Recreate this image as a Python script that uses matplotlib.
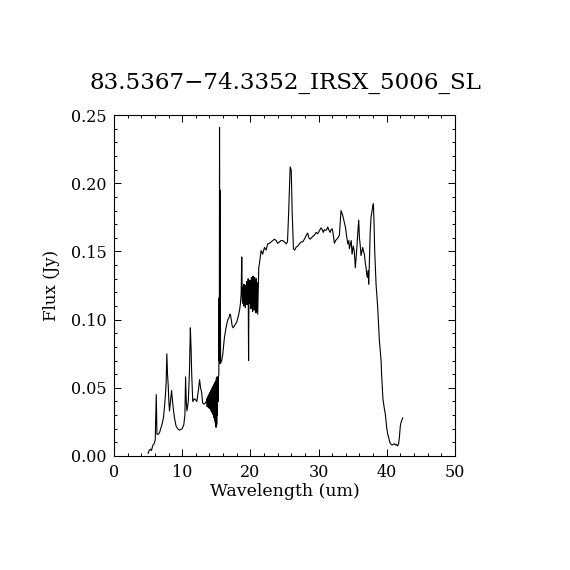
"""
IRS spectrum of 83.5367-74.3352 (IRSX 5006, SL), redrawn in the old IDL plot style.
"""
import matplotlib
matplotlib.use('Agg')
import matplotlib.pyplot as plt
from matplotlib.ticker import MultipleLocator

title = '83.5367\u221274.3352_IRSX_5006_SL'

# wavelength (um) and flux (Jy)
wave = [5.00, 5.15, 5.35, 5.50, 5.70, 5.90, 6.05, 6.20, 6.30, 6.50,
        6.67, 6.85, 7.06, 7.25, 7.40, 7.55, 7.65, 7.75, 7.85, 7.95,
        8.05, 8.14, 8.30, 8.45, 8.55, 8.68, 8.87, 9.10, 9.35, 9.60,
        9.80, 10.00, 10.24, 10.40, 10.50, 10.60, 10.70, 10.90, 11.07, 11.20,
        11.30, 11.40, 11.55, 11.80, 12.00, 12.15, 12.40, 12.55, 12.70, 12.85,
        13.00, 13.20, 13.40, 13.55,
        # noisy stretch 13.6-15.4
        13.62, 13.67, 13.72, 13.77, 13.82, 13.87, 13.92, 13.97, 14.02, 14.07,
        14.12, 14.17, 14.22, 14.27, 14.32, 14.37, 14.42, 14.47, 14.52, 14.57,
        14.62, 14.67, 14.72, 14.77, 14.82, 14.87, 14.92, 14.97, 15.02, 15.07,
        15.12, 15.17, 15.22, 15.27, 15.32, 15.38,
        # 15.5 um spike
        15.42, 15.45, 15.48, 15.52, 15.58, 15.63,
        15.80, 15.96, 16.20, 16.40, 16.55, 16.70, 16.84, 17.00, 17.10, 17.20,
        17.35, 17.50, 17.67, 17.85, 18.00, 18.15, 18.30, 18.45, 18.55, 18.65,
        18.74, 18.82, 18.90,
        # noisy stretch 19-21.3
        18.96, 19.02, 19.08, 19.14, 19.20, 19.26, 19.32, 19.38, 19.44, 19.50,
        19.56, 19.62, 19.68, 19.74, 19.80, 19.86, 19.92, 19.98, 20.04, 20.10,
        20.16, 20.22, 20.28, 20.34, 20.40, 20.46, 20.52, 20.58, 20.64, 20.70,
        20.76, 20.82, 20.88, 20.94, 21.00, 21.08, 21.15, 21.23, 21.33,
        21.58, 21.80, 22.07, 22.30, 22.55, 22.80, 23.05, 23.30, 23.53, 23.80,
        24.00, 24.27, 24.50, 24.75, 25.00, 25.25, 25.45, 25.63, 25.84, 26.00,
        26.13, 26.32, 26.50, 26.70, 26.95, 27.20, 27.45, 27.68, 27.93, 28.07,
        28.40, 28.60, 28.77, 28.95, 29.15, 29.40, 29.64, 29.88, 30.10, 30.38,
        30.55, 30.70, 30.85, 31.00, 31.20, 31.35, 31.50, 31.70, 31.85, 32.00,
        32.15, 32.33, 32.50, 32.67, 32.85, 33.06, 33.30, 33.55, 33.75, 33.94,
        34.10, 34.30, 34.45, 34.53, 34.70, 34.80, 34.92, 35.10, 35.25, 35.40,
        35.60, 35.75, 35.90, 36.00, 36.10, 36.24, 36.48, 36.60, 36.73, 36.85,
        36.98, 37.10, 37.20, 37.30, 37.36, 37.45, 37.57, 37.70, 37.86, 37.95,
        38.05, 38.15, 38.24, 38.44, 38.68, 38.93, 39.05, 39.18, 39.25, 39.33,
        39.45, 39.50, 39.65, 39.80, 40.00, 40.15, 40.30, 40.45, 40.64, 40.80,
        40.98, 41.15, 41.30, 41.45, 41.60, 41.75, 41.86, 42.00, 42.10, 42.35]

flux = [0.0020, 0.0040, 0.0050, 0.0040, 0.0080, 0.0090, 0.0120, 0.0450, 0.0160, 0.0160,
        0.0170, 0.0200, 0.0235, 0.0280, 0.0355, 0.0450, 0.0540, 0.0750, 0.0600, 0.0520,
        0.0400, 0.0330, 0.0410, 0.0480, 0.0420, 0.0355, 0.0280, 0.0220, 0.0200, 0.0190,
        0.0195, 0.0200, 0.0230, 0.0300, 0.0580, 0.0400, 0.0330, 0.0400, 0.0625, 0.0940,
        0.0800, 0.0600, 0.0400, 0.0420, 0.0410, 0.0400, 0.0490, 0.0560, 0.0500, 0.0470,
        0.0390, 0.0380, 0.0390, 0.0400,
        0.0420, 0.0360, 0.0430, 0.0370, 0.0440, 0.0360, 0.0450, 0.0350, 0.0460, 0.0350,
        0.0470, 0.0340, 0.0480, 0.0330, 0.0490, 0.0320, 0.0500, 0.0310, 0.0510, 0.0300,
        0.0520, 0.0280, 0.0530, 0.0260, 0.0540, 0.0240, 0.0550, 0.0210, 0.0570, 0.0230,
        0.0580, 0.0300, 0.0580, 0.0400, 0.0580, 0.0600,
        0.1160, 0.0700, 0.2410, 0.0680, 0.1950, 0.0680,
        0.0700, 0.0750, 0.0870, 0.0930, 0.0970, 0.1000, 0.1010, 0.1040, 0.1030, 0.1000,
        0.0950, 0.0940, 0.0956, 0.0970, 0.0980, 0.1010, 0.1040, 0.1080, 0.1120, 0.1190,
        0.1460, 0.1140, 0.1120,
        0.1240, 0.1100, 0.1260, 0.1120, 0.1210, 0.1090, 0.1250, 0.1130, 0.1280, 0.1110,
        0.1260, 0.1140, 0.1300, 0.0700, 0.1230, 0.1120, 0.1290, 0.1150, 0.1270, 0.1080,
        0.1310, 0.1100, 0.1280, 0.1060, 0.1320, 0.1120, 0.1290, 0.1070, 0.1310, 0.1100,
        0.1280, 0.1050, 0.1300, 0.1060, 0.1270, 0.1040, 0.1200, 0.1380, 0.1410,
        0.1507, 0.1480, 0.1530, 0.1510, 0.1556, 0.1560, 0.1570, 0.1580, 0.1590, 0.1580,
        0.1560, 0.1570, 0.1580, 0.1580, 0.1570, 0.1556, 0.1570, 0.1800, 0.2120, 0.2096,
        0.1800, 0.1520, 0.1510, 0.1530, 0.1540, 0.1556, 0.1570, 0.1570, 0.1590, 0.1605,
        0.1635, 0.1600, 0.1590, 0.1600, 0.1610, 0.1620, 0.1640, 0.1630, 0.1650, 0.1674,
        0.1660, 0.1640, 0.1660, 0.1654, 0.1660, 0.1680, 0.1660, 0.1640, 0.1660, 0.1667,
        0.1630, 0.1560, 0.1580, 0.1590, 0.1600, 0.1620, 0.1800, 0.1765, 0.1720, 0.1680,
        0.1620, 0.1556, 0.1580, 0.1520, 0.1560, 0.1580, 0.1480, 0.1540, 0.1500, 0.1380,
        0.1510, 0.1630, 0.1730, 0.1600, 0.1556, 0.1470, 0.1530, 0.1500, 0.1480, 0.1420,
        0.1380, 0.1320, 0.1310, 0.1360, 0.1260, 0.1400, 0.1630, 0.1750, 0.1800, 0.1830,
        0.1850, 0.1700, 0.1507, 0.1260, 0.1090, 0.0846, 0.0780, 0.0700, 0.0600, 0.0527,
        0.0420, 0.0400, 0.0350, 0.0307, 0.0208, 0.0160, 0.0135, 0.0100, 0.0086, 0.0080,
        0.0086, 0.0090, 0.0080, 0.0085, 0.0074, 0.0090, 0.0135, 0.0220, 0.0245, 0.0280]

plt.rcParams['font.family'] = 'DejaVu Serif'

fig = plt.figure(figsize=(5.7, 5.7), dpi=100)
ax = fig.add_axes([0.2, 0.2, 0.598, 0.598])

ax.plot(wave, flux, color='black', linewidth=0.8)

ax.set_xlim(0, 50)
ax.set_ylim(0, 0.25)
ax.xaxis.set_major_locator(MultipleLocator(10))
ax.xaxis.set_minor_locator(MultipleLocator(2))
ax.yaxis.set_major_locator(MultipleLocator(0.05))
ax.yaxis.set_minor_locator(MultipleLocator(0.01))
ax.yaxis.set_major_formatter(plt.FormatStrFormatter('%.2f'))

ax.tick_params(which='both', direction='in', top=True, right=True,
               width=0.7, labelsize=11.5, color='black')
ax.tick_params(which='major', length=5, pad=5.5)
ax.tick_params(which='minor', length=2.5)
for s in ax.spines.values():
    s.set_linewidth(0.8)

ax.set_xlabel('Wavelength (um)', fontsize=12.5, labelpad=2)
ax.set_ylabel('Flux (Jy)', fontsize=12, labelpad=8)
fig.text(0.501, 1 - 83 / 570, title, fontsize=16.6, ha='center', va='center')

fig.savefig('out.png', dpi=100)
